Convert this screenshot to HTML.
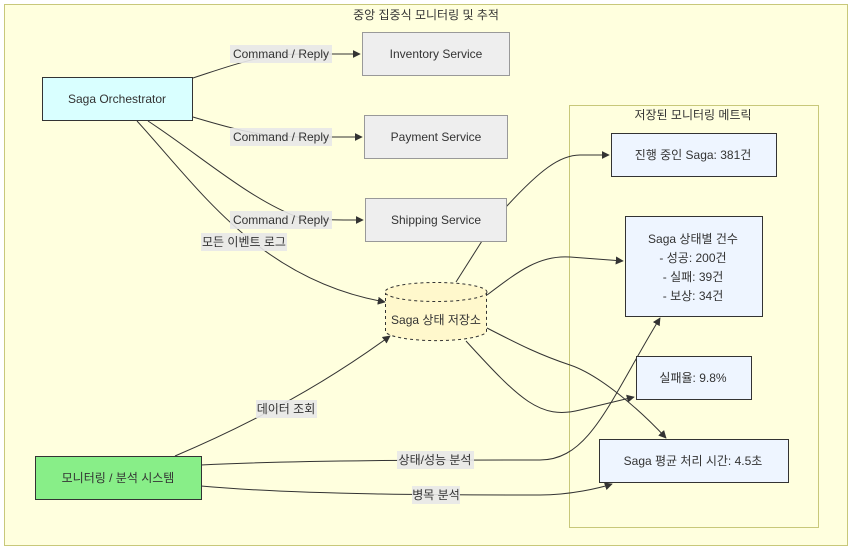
<!DOCTYPE html>
<html><head><meta charset="utf-8"><style>
body{margin:0;background:#fff}
svg{display:block;font-family:"Liberation Sans","Noto Sans CJK KR",sans-serif}
.t{font-size:12px;fill:#333;text-anchor:middle;dominant-baseline:central}
.l{fill:#e8e8e8;opacity:.9}
.e{fill:none;stroke:#333;stroke-width:1}
</style></head><body>
<svg width="852" height="550" viewBox="0 0 852 550">
<defs><marker id="a" viewBox="0 0 10 10" refX="9" refY="5" markerWidth="8" markerHeight="8" orient="auto"><path d="M0,0L10,5L0,10z" fill="#333"/></marker></defs>
<rect x="4.5" y="4.5" width="843" height="541" fill="#ffffde" stroke="#c8c87a"/>
<text class="t" x="426" y="15">중앙 집중식 모니터링 및 추적</text>
<rect x="569.5" y="105.5" width="249" height="422" fill="#ffffde" stroke="#c8c87a"/>
<text class="t" x="693" y="115">저장된 모니터링 메트릭</text>
<!-- edges -->
<path class="e" d="M193,78 C230,66 260,54 300,54 L360,54" marker-end="url(#a)"/>
<path class="e" d="M193,117 C230,128 260,137 300,137 L362,137" marker-end="url(#a)"/>
<path class="e" d="M148,121 C200,155 250,200 300,218 C320,220 340,220 363,220" marker-end="url(#a)"/>
<path class="e" d="M137,121 C200,190 260,280 385,302" marker-end="url(#a)"/>
<path class="e" d="M456,282 L482,241"/>
<path class="e" d="M506,207 C540,170 560,155 580,155 L609,155" marker-end="url(#a)"/>
<path class="e" d="M487,295 C520,270 540,255 570,257 L623,261" marker-end="url(#a)"/>
<path class="e" d="M466,341 C520,400 540,420 580,410 L634,397" marker-end="url(#a)"/>
<path class="e" d="M487,328 C520,345 540,355 570,365 C600,375 640,410 666,438" marker-end="url(#a)"/>
<path class="e" d="M175,456 C260,420 330,380 390,336" marker-end="url(#a)"/>
<path class="e" d="M201,465 C300,460 450,460 540,460 C590,460 610,400 660,318" marker-end="url(#a)"/>
<path class="e" d="M201,486 C300,495 450,495 540,495 C570,495 600,488 612,484" marker-end="url(#a)"/>
<!-- labels -->
<rect class="l" x="230" y="45" width="102" height="18"/><text class="t" x="281" y="54">Command / Reply</text>
<rect class="l" x="230" y="128" width="102" height="18"/><text class="t" x="281" y="137">Command / Reply</text>
<rect class="l" x="230" y="211" width="102" height="18"/><text class="t" x="281" y="220">Command / Reply</text>
<rect class="l" x="201" y="233" width="86" height="18"/><text class="t" x="244" y="242">모든 이벤트 로그</text>
<rect class="l" x="256" y="400" width="61" height="18"/><text class="t" x="286" y="409">데이터 조회</text>
<rect class="l" x="397" y="451" width="77" height="18"/><text class="t" x="435" y="460">상태/성능 분석</text>
<rect class="l" x="412" y="486" width="48" height="18"/><text class="t" x="436" y="495">병목 분석</text>
<!-- nodes -->
<rect x="42.5" y="77.5" width="150" height="43" fill="#d9ffff" stroke="#333"/><text class="t" x="117" y="99">Saga Orchestrator</text>
<rect x="362.5" y="32.5" width="147" height="43" fill="#eee" stroke="#999"/><text class="t" x="436" y="54">Inventory Service</text>
<rect x="364.5" y="115.5" width="143" height="43" fill="#eee" stroke="#999"/><text class="t" x="436" y="137">Payment Service</text>
<rect x="365.5" y="198.5" width="141" height="43" fill="#eee" stroke="#999"/><text class="t" x="436" y="220">Shipping Service</text>
<path d="M385.5,292 L385.5,332 A51,10 0 0 0 486.5,332 L486.5,292" fill="#fff8cc" stroke="#333" stroke-dasharray="3,3"/>
<ellipse cx="436" cy="292" rx="51" ry="9.5" fill="#fff8cc" stroke="#333" stroke-dasharray="3,3"/>
<text class="t" x="436" y="320">Saga 상태 저장소</text>
<rect x="35.5" y="456.5" width="166" height="43" fill="#88ee88" stroke="#333"/><text class="t" x="118" y="478">모니터링 / 분석 시스템</text>
<rect x="611.5" y="133.5" width="165" height="43" fill="#eef5ff" stroke="#333"/><text class="t" x="693" y="155">진행 중인 Saga: 381건</text>
<rect x="625.5" y="216.5" width="137" height="100" fill="#eef5ff" stroke="#333"/>
<text class="t" x="693" y="239">Saga 상태별 건수</text><text class="t" x="693" y="258">- 성공: 200건</text><text class="t" x="693" y="277">- 실패: 39건</text><text class="t" x="693" y="296">- 보상: 34건</text>
<rect x="636.5" y="356.5" width="115" height="43" fill="#eef5ff" stroke="#333"/><text class="t" x="693" y="378">실패율: 9.8%</text>
<rect x="599.5" y="439.5" width="189" height="43" fill="#eef5ff" stroke="#333"/><text class="t" x="693" y="461">Saga 평균 처리 시간: 4.5초</text>
</svg>
</body></html>
